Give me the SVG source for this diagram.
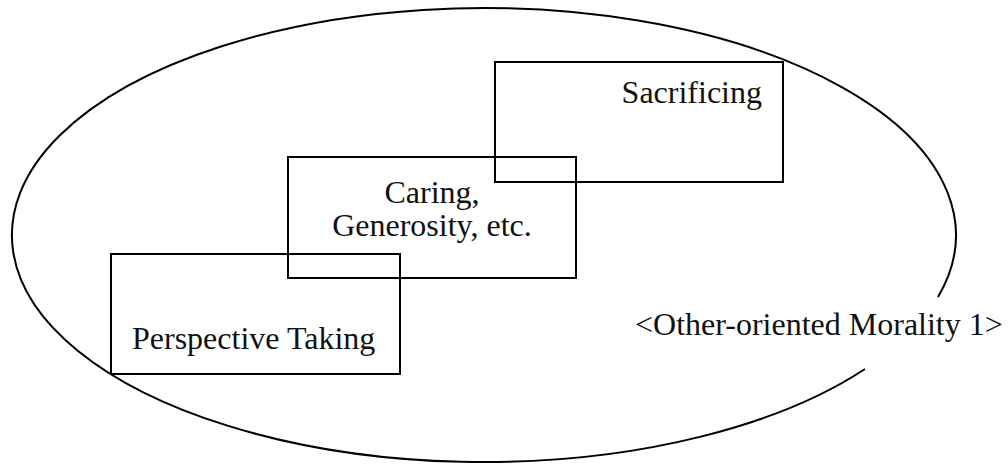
<svg xmlns="http://www.w3.org/2000/svg" width="1008" height="464" viewBox="0 0 1008 464">
<style>
.box{fill:none;stroke:#000;stroke-width:2}
.t{font-family:"Liberation Serif","Times New Roman",serif;font-size:32px;fill:#111}
</style>
<rect width="1008" height="464" fill="#fff"/>
<g id="boundary">
<path d="M 865 369 A 472 227 0 1 1 938 297" fill="none" stroke="#000" stroke-width="2"/>
<text class="t" x="635" y="335">&lt;Other-oriented Morality 1&gt;</text>
</g>
<g id="sacrificing">
<rect class="box" x="495" y="62" width="288" height="120"/>
<text class="t" x="762" y="103" text-anchor="end">Sacrificing</text>
</g>
<g id="caring">
<rect class="box" x="288" y="157" width="288" height="121"/>
<text class="t" x="432" y="203" text-anchor="middle">Caring,</text>
<text class="t" x="432" y="236" text-anchor="middle">Generosity, etc.</text>
</g>
<g id="perspective">
<rect class="box" x="111" y="254" width="289" height="120"/>
<text class="t" x="132" y="349">Perspective Taking</text>
</g>
<g id="connectors"></g>
</svg>
